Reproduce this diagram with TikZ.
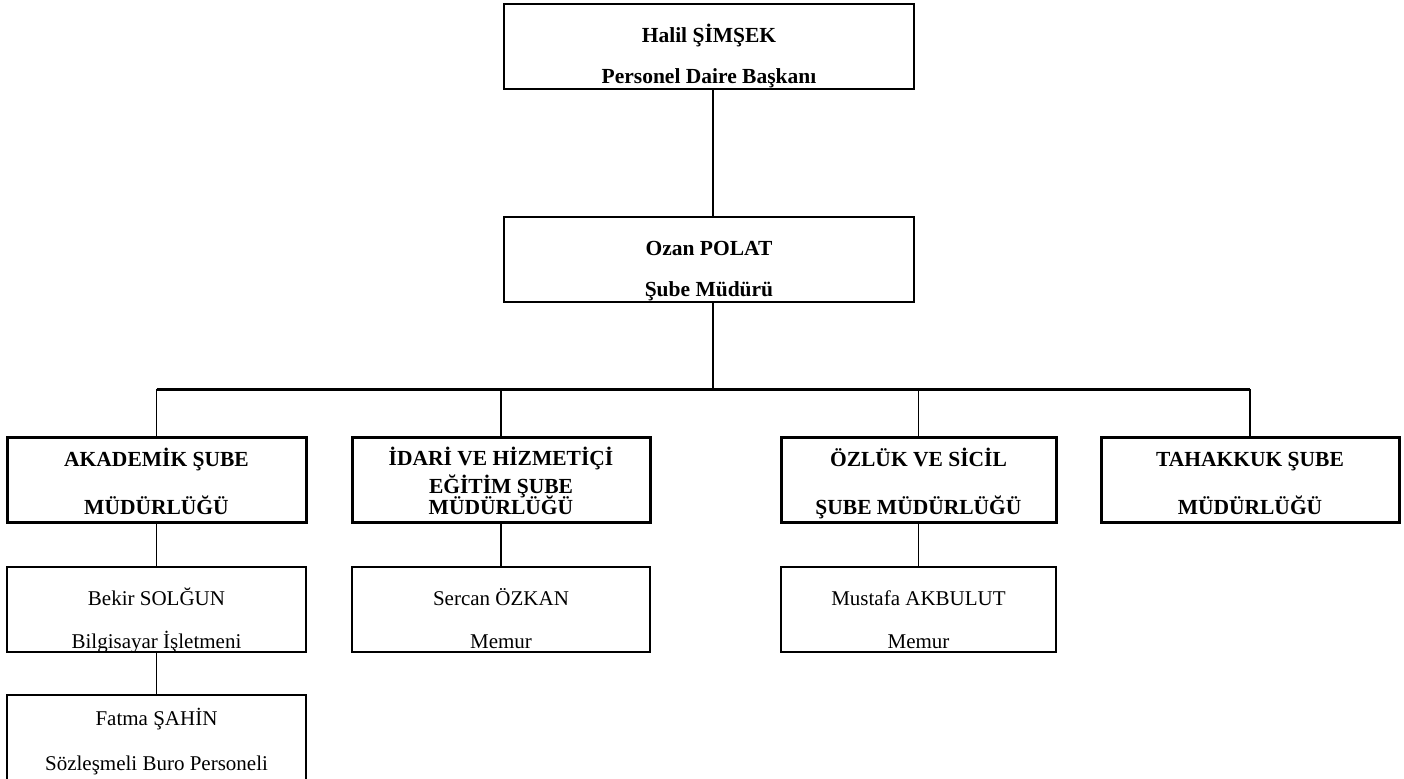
\documentclass[tikz,border=0pt]{standalone}
\usepackage{fontspec}
\setmainfont{Liberation Serif}
% text of a box: width, first baseline from the top, lines
\newcommand{\boxlines}[3]{\parbox[c][42.5pt][t]{#1}{\centering\rule{0pt}{#2}#3}}
\begin{document}
\begin{tikzpicture}[x=0.5pt, y=-0.5pt,
	headbox/.style={draw, line width=1.2pt, inner sep=0pt, font=\fontsize{10.75}{20.5}\selectfont\bfseries},
	deptbox/.style={draw, line width=1.5pt, inner sep=0pt, font=\fontsize{10.75}{24}\selectfont\bfseries},
	staffbox/.style={draw, line width=1pt, inner sep=0pt, font=\fontsize{10.5}{21.5}\selectfont},
	link/.style={line width=0.9pt},
	busline/.style={line width=1.5pt}]
	\useasboundingbox (0,0) rectangle (1404,778);

	\node[headbox] (halil) at (709,46.5) {\boxlines{205pt}{19pt}{Halil ŞİMŞEK\\Personel Daire Başkanı}};
	\node[headbox] (ozan) at (709,259.5) {\boxlines{205pt}{19pt}{Ozan POLAT\\Şube Müdürü}};
	\coordinate (bus) at (713,389);

	\node[deptbox] (akademik) at (156.5,479.5) {\boxlines{149.5pt}{14.5pt}{AKADEMİK ŞUBE\\MÜDÜRLÜĞÜ}};
	\node[deptbox, font=\fontsize{10.75}{14}\selectfont\bfseries] (idari) at (501,479.5) {\boxlines{149pt}{14pt}{İDARİ VE HİZMETİÇİ\\EĞİTİM ŞUBE\\[-3.5pt]MÜDÜRLÜĞÜ}};
	\node[deptbox] (ozluk) at (918.5,479.5) {\boxlines{137.5pt}{14.5pt}{ÖZLÜK VE SİCİL\\ŞUBE MÜDÜRLÜĞÜ}};
	\node[deptbox] (tahakkuk) at (1250,479.5) {\boxlines{149pt}{14.5pt}{TAHAKKUK ŞUBE\\MÜDÜRLÜĞÜ}};

	\node[staffbox] (bekir) at (156.5,609.5) {\boxlines{149.5pt}{19pt}{Bekir SOLĞUN\\Bilgisayar İşletmeni}};
	\node[staffbox, font=\fontsize{10.5}{22.5}\selectfont] (fatma) at (156.5,737.5) {\boxlines{149.5pt}{15pt}{Fatma ŞAHİN\\Sözleşmeli Buro Personeli}};
	\node[staffbox] (sercan) at (501,609.5) {\boxlines{149pt}{19pt}{Sercan ÖZKAN\\Memur}};
	\node[staffbox] (mustafa) at (918.5,609.5) {\boxlines{137.5pt}{19pt}{Mustafa AKBULUT\\Memur}};

	\draw[link] (halil.south -| bus) -- (ozan.north -| bus);
	\draw[link] (ozan.south -| bus) -- (bus);
	\draw[busline] (akademik |- bus) -- (tahakkuk |- bus);
	\foreach \dept in {akademik, idari, ozluk, tahakkuk}
		\draw[link] (\dept |- bus) -- (\dept);
	\draw[link] (akademik) -- (bekir);
	\draw[link] (bekir) -- (fatma);
	\draw[link] (idari) -- (sercan);
	\draw[link] (ozluk) -- (mustafa);
\end{tikzpicture}
\end{document}
